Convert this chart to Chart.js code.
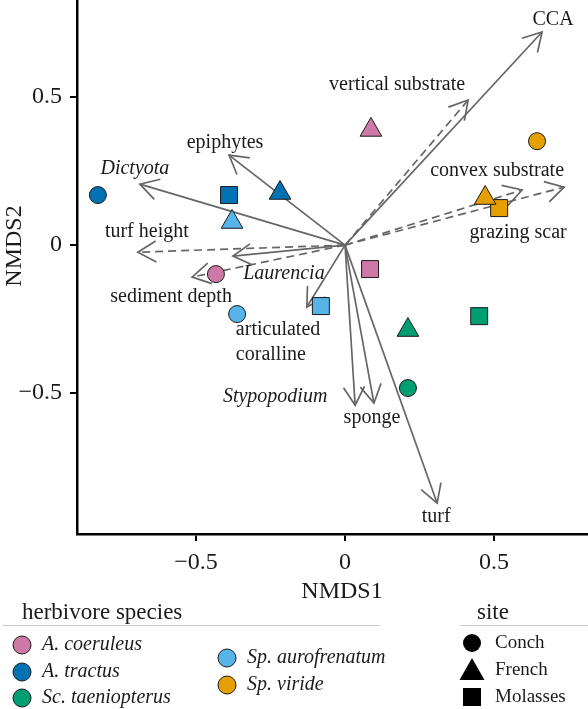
<!DOCTYPE html>
<html>
<head>
<meta charset="utf-8">
<script src="https://cdn.jsdelivr.net/npm/chart.js@4.4.1/dist/chart.umd.min.js"></script>
<style>
  body { margin: 0; background: #fff; }
  canvas { display: block; }
</style>
</head>
<body>
<canvas id="nmds" width="588" height="709"></canvas>
<script>
// herbivore species (colour legend) and sites (shape legend)
const species = ['A. coeruleus', 'A. tractus', 'Sc. taeniopterus', 'Sp. aurofrenatum', 'Sp. viride'];
const sites = ['Conch', 'French', 'Molasses'];

// NMDS scores, one value per species in the order above
const conchX = [-0.433, -0.829, 0.211, -0.362, 0.644];
const conchY = [-0.098, 0.169, -0.483, -0.233, 0.351];
const frenchX = [0.087, -0.218, 0.211, -0.379, 0.470];
const frenchY = [0.389, 0.176, -0.287, 0.078, 0.159];
const molassesX = [0.084, -0.389, 0.450, -0.081, 0.517];
const molassesY = [-0.081, 0.169, -0.240, -0.206, 0.125];

// fitted vectors
const vectorNames = ['CCA', 'vertical substrate', 'convex substrate', 'grazing scar', 'epiphytes',
  'Dictyota', 'turf height', 'Laurencia', 'sediment depth', 'articulated\ncoralline',
  'Stypopodium', 'sponge', 'turf'];
const vectorX = [0.661, 0.413, 0.594, 0.735, -0.389, -0.688, -0.695, -0.376, -0.513, -0.128, 0.034, 0.097, 0.309];
const vectorY = [0.720, 0.490, 0.186, 0.196, 0.304, 0.206, -0.024, -0.037, -0.108, -0.209, -0.541, -0.534, -0.872];
const vectorKind = ['benthos', 'substrate', 'substrate', 'substrate', 'benthos', 'benthos', 'substrate',
  'benthos', 'substrate', 'benthos', 'benthos', 'benthos', 'benthos'];

const xTicks = [-0.5, 0, 0.5];
const yTicks = [-0.5, 0, 0.5];

// styling
const colors = ['#CC79A7', '#0072B2', '#009E73', '#56B4E9', '#E69F00'];
const siteShapes = ['circle', 'triangle', 'rect'];
const siteRadius = [8.5, 12.5, 12];
const serif = "'Liberation Serif', 'DejaVu Serif', serif";
const ink = '#1a1a1a';
const grey = '#666666';
const italicNames = ['Dictyota', 'Laurencia', 'Stypopodium'];
// label offset from arrow tip, in pixels
const labelOffset = {
  'CCA': [11, -12], 'vertical substrate': [-71, -15], 'convex substrate': [-25, -19],
  'grazing scar': [-46, 46], 'epiphytes': [-4, -12], 'Dictyota': [-5, -15],
  'turf height': [9, -20], 'Laurencia': [51, 18], 'sediment depth': [-21, 20],
  'articulated\ncoralline': [-71, 23], 'Stypopodium': [-80, -8], 'sponge': [-2, 15], 'turf': [-1, 14]
};

function fmt(v) {
  if (v === 0) return '0';
  return v < 0 ? '\u2212' + Math.abs(v) : String(v);
}

const siteX = [conchX, frenchX, molassesX];
const siteY = [conchY, frenchY, molassesY];

let datasets = [];
sites.forEach((s, k) => {
  datasets.push({
    label: s,
    data: siteX[k].map((v, i) => ({ x: v, y: siteY[k][i] })),
    pointStyle: siteShapes[k],
    pointRadius: siteRadius[k],
    pointHoverRadius: siteRadius[k],
    backgroundColor: colors,
    borderColor: ink,
    borderWidth: 1,
    order: 0
  });
});
vectorNames.forEach((n, i) => {
  datasets.push({
    label: n,
    data: [{ x: 0, y: 0 }, { x: vectorX[i], y: vectorY[i] }],
    showLine: true,
    pointRadius: 0,
    borderColor: grey,
    borderWidth: 1.7,
    borderDash: vectorKind[i] === 'substrate' ? [8, 5] : [],
    order: 1
  });
});

const ordination = {
  id: 'ordination',
  beforeDatasetsDraw(chart) {
    const { ctx, scales: { x, y } } = chart;
    const x0 = x.getPixelForValue(0), y0 = y.getPixelForValue(0);
    ctx.save();
    ctx.strokeStyle = grey;
    ctx.lineWidth = 1.7;
    ctx.setLineDash([]);
    vectorNames.forEach((n, i) => {
      const x1 = x.getPixelForValue(vectorX[i]), y1 = y.getPixelForValue(vectorY[i]);
      const a = Math.atan2(y1 - y0, x1 - x0);
      const L = 21;
      ctx.beginPath();
      ctx.moveTo(x1 - L * Math.cos(a - Math.PI / 6), y1 - L * Math.sin(a - Math.PI / 6));
      ctx.lineTo(x1, y1);
      ctx.lineTo(x1 - L * Math.cos(a + Math.PI / 6), y1 - L * Math.sin(a + Math.PI / 6));
      ctx.stroke();
    });
    ctx.restore();
  },
  afterDatasetsDraw(chart) {
    const { ctx, scales: { x, y } } = chart;
    ctx.save();
    ctx.fillStyle = ink;
    ctx.textBaseline = 'middle';
    vectorNames.forEach((n, i) => {
      const off = labelOffset[n];
      const px = x.getPixelForValue(vectorX[i]) + off[0];
      const py = y.getPixelForValue(vectorY[i]) + off[1];
      ctx.font = (italicNames.includes(n) ? 'italic ' : '') + '20px ' + serif;
      const lines = n.split('\n');
      ctx.textAlign = lines.length > 1 ? 'left' : 'center';
      lines.forEach((t, j) => ctx.fillText(t, px, py + j * 25));
    });
    ctx.restore();
  },
  afterDraw(chart) {
    const { ctx } = chart;
    ctx.save();
    ctx.fillStyle = ink;
    ctx.textBaseline = 'middle';
    // axis titles
    ctx.font = '24px ' + serif;
    ctx.textAlign = 'center';
    ctx.fillText('NMDS1', 342, 592);
    ctx.save();
    ctx.translate(15, 246);
    ctx.rotate(-Math.PI / 2);
    ctx.fillText('NMDS2', 0, 0);
    ctx.restore();

    // legend titles
    ctx.textAlign = 'left';
    ctx.font = '23px ' + serif;
    ctx.fillText('herbivore species', 22, 613);
    ctx.fillText('site', 477, 613);
    ctx.strokeStyle = '#c8c8c8';
    ctx.lineWidth = 1;
    ctx.beginPath();
    ctx.moveTo(3, 625.5); ctx.lineTo(380, 625.5);
    ctx.moveTo(460, 625.5); ctx.lineTo(588, 625.5);
    ctx.stroke();

    // species legend
    const spPos = [[22, 645], [22, 672], [22, 698], [227, 658], [227, 685]];
    species.forEach((s, i) => {
      const [cx, cy] = spPos[i];
      ctx.beginPath();
      ctx.arc(cx, cy, 9, 0, Math.PI * 2);
      ctx.fillStyle = colors[i];
      ctx.fill();
      ctx.strokeStyle = ink;
      ctx.lineWidth = 1;
      ctx.stroke();
      ctx.fillStyle = ink;
      ctx.font = 'italic 20px ' + serif;
      ctx.fillText(s, cx + 20, cy);
    });

    // site legend
    const stY = [643, 670, 697];
    sites.forEach((s, i) => {
      const cx = 472, cy = stY[i];
      ctx.fillStyle = '#000';
      ctx.beginPath();
      if (i === 0) ctx.arc(cx, cy, 9, 0, Math.PI * 2);
      else if (i === 1) {
        ctx.moveTo(cx, cy - 12); ctx.lineTo(cx + 12.5, cy + 10); ctx.lineTo(cx - 12.5, cy + 10); ctx.closePath();
      } else ctx.rect(cx - 9, cy - 9, 18, 18);
      ctx.fill();
      ctx.fillStyle = ink;
      ctx.font = '19px ' + serif;
      ctx.fillText(s, 495, cy);
    });
    ctx.restore();
  }
};

new Chart(document.getElementById('nmds'), {
  type: 'scatter',
  data: { datasets: datasets },
  options: {
    responsive: false,
    animation: false,
    layout: { autoPadding: false, padding: { left: 0, right: 0, top: 0, bottom: 100 } },
    plugins: { legend: { display: false }, tooltip: { enabled: false } },
    scales: {
      x: {
        type: 'linear', min: -0.899, max: 0.815,
        afterBuildTicks: s => { s.ticks = xTicks.map(v => ({ value: v })); },
        afterFit: s => { s.height = 75; s.paddingLeft = 0; s.paddingRight = 0; },
        grid: { drawOnChartArea: false, drawTicks: true, tickLength: 7, color: '#000', lineWidth: 2 },
        border: { display: true, color: '#000', width: 2.5 },
        ticks: { font: { family: serif, size: 24 }, color: ink, padding: 7, maxRotation: 0, autoSkip: false, callback: v => fmt(v) }
      },
      y: {
        type: 'linear', min: -0.976, max: 0.828,
        afterBuildTicks: s => { s.ticks = yTicks.map(v => ({ value: v })); },
        afterFit: s => { s.width = 77; s.paddingTop = 0; s.paddingBottom = 0; },
        grid: { drawOnChartArea: false, drawTicks: true, tickLength: 7, color: '#000', lineWidth: 2 },
        border: { display: true, color: '#000', width: 2.5 },
        ticks: { font: { family: serif, size: 24 }, color: ink, padding: 8, autoSkip: false, callback: v => fmt(v) }
      }
    }
  },
  plugins: [ordination]
});
</script>
</body>
</html>
